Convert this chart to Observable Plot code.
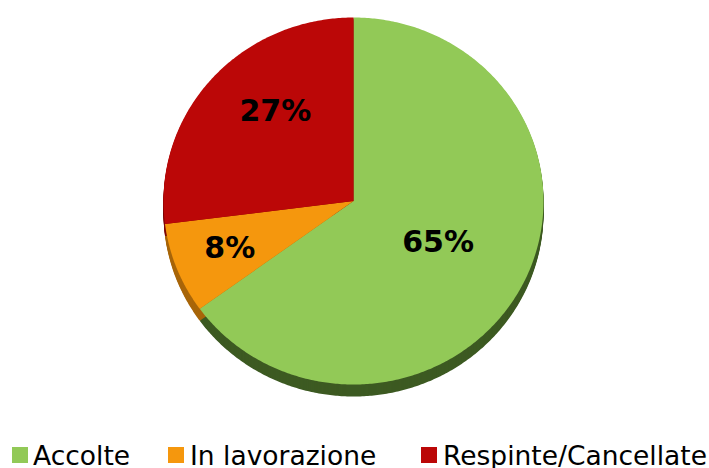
<!DOCTYPE html>
<html>
<head>
<meta charset="utf-8">
<script src="https://cdn.jsdelivr.net/npm/d3@7"></script>
<script src="https://cdn.jsdelivr.net/npm/@observablehq/plot@0.6"></script>
<style>
  html, body { margin: 0; padding: 0; background: #fff; width: 709px; height: 468px; overflow: hidden; }
  #chart { position: absolute; left: 0; top: 0; }
  #legend { position: absolute; left: 0; top: 443px; width: 709px; height: 30px;
            font-family: "DejaVu Sans", Verdana, sans-serif; font-size: 26.5px; line-height: 26px; color: #000; }
  .sw { position: absolute; top: 4px; width: 16px; height: 16px; }
  .lbl { position: absolute; top: 0; white-space: nowrap; }
</style>
</head>
<body>
<div id="chart"></div>
<div id="legend"></div>
<script>
// Data
const categories = ["Accolte", "In lavorazione", "Respinte/Cancellate"];
const values = [65, 8, 27];
const labels = ["65%", "8%", "27%"];
const colors = ["#92c957", "#f5970d", "#bb0707"];
const sideColors = ["#3d5a22", "#a8660a", "#7d0505"];

// Build slice polygons (unit circle, clockwise from top)
const total = d3.sum(values);
const rows = [];
const labelRows = [];
let acc = 0;
categories.forEach((cat, i) => {
  const a0 = acc / total * 2 * Math.PI;
  acc += values[i];
  const a1 = acc / total * 2 * Math.PI;
  rows.push({cat, x: 0, y: 0});
  const n = Math.max(4, Math.ceil((a1 - a0) / 0.01));
  for (let k = 0; k <= n; k++) {
    const a = a0 + (a1 - a0) * k / n;
    rows.push({cat, x: Math.sin(a), y: Math.cos(a)});
  }
  rows.push({cat, x: 0, y: 0});
  // label placement: smaller slices push label further out
  const share = values[i] / total;
  const am = (a0 + a1) / 2 + (share > 0.2 && share < 0.5 ? 0.15 : 0);
  const r = share > 0.5 ? 0.5 : share > 0.2 ? 0.64 : 0.7;
  labelRows.push({cat, label: labels[i], x: r * Math.sin(am), y: r * Math.cos(am)});
});

const marks = [];
// 3D side (depth) layers
categories.forEach((cat, i) => {
  const d = rows.filter(r => r.cat === cat);
  for (let dy = 12; dy >= 1; dy--) {
    marks.push(Plot.line(d, {x: "x", y: "y", fill: sideColors[i], stroke: "none", dy, curve: "linear"}));
  }
});
// top faces
marks.push(Plot.line(rows, {x: "x", y: "y", z: "cat", fill: "cat", stroke: "none", curve: "linear"}));
// labels
marks.push(Plot.text(labelRows, {x: "x", y: "y", text: "label", fontSize: 30, fontWeight: "bold", fill: "#000"}));

const chart = Plot.plot({
  width: 709,
  height: 430,
  margin: 0,
  style: {fontFamily: "'DejaVu Sans', Verdana, sans-serif", background: "#fff"},
  x: {domain: [-1, 1], range: [163, 543], axis: null},
  y: {domain: [-1, 1], range: [384, 17], axis: null},
  color: {domain: categories, range: colors},
  marks
});
document.getElementById("chart").appendChild(chart);

// Legend
const legendPos = [[12, 33], [168, 190], [421, 443]];
const legend = document.getElementById("legend");
categories.forEach((cat, i) => {
  const sw = document.createElement("div");
  sw.className = "sw";
  sw.style.left = legendPos[i][0] + "px";
  sw.style.background = colors[i];
  legend.appendChild(sw);
  const t = document.createElement("div");
  t.className = "lbl";
  t.style.left = legendPos[i][1] + "px";
  t.textContent = cat;
  legend.appendChild(t);
});
</script>
</body>
</html>
